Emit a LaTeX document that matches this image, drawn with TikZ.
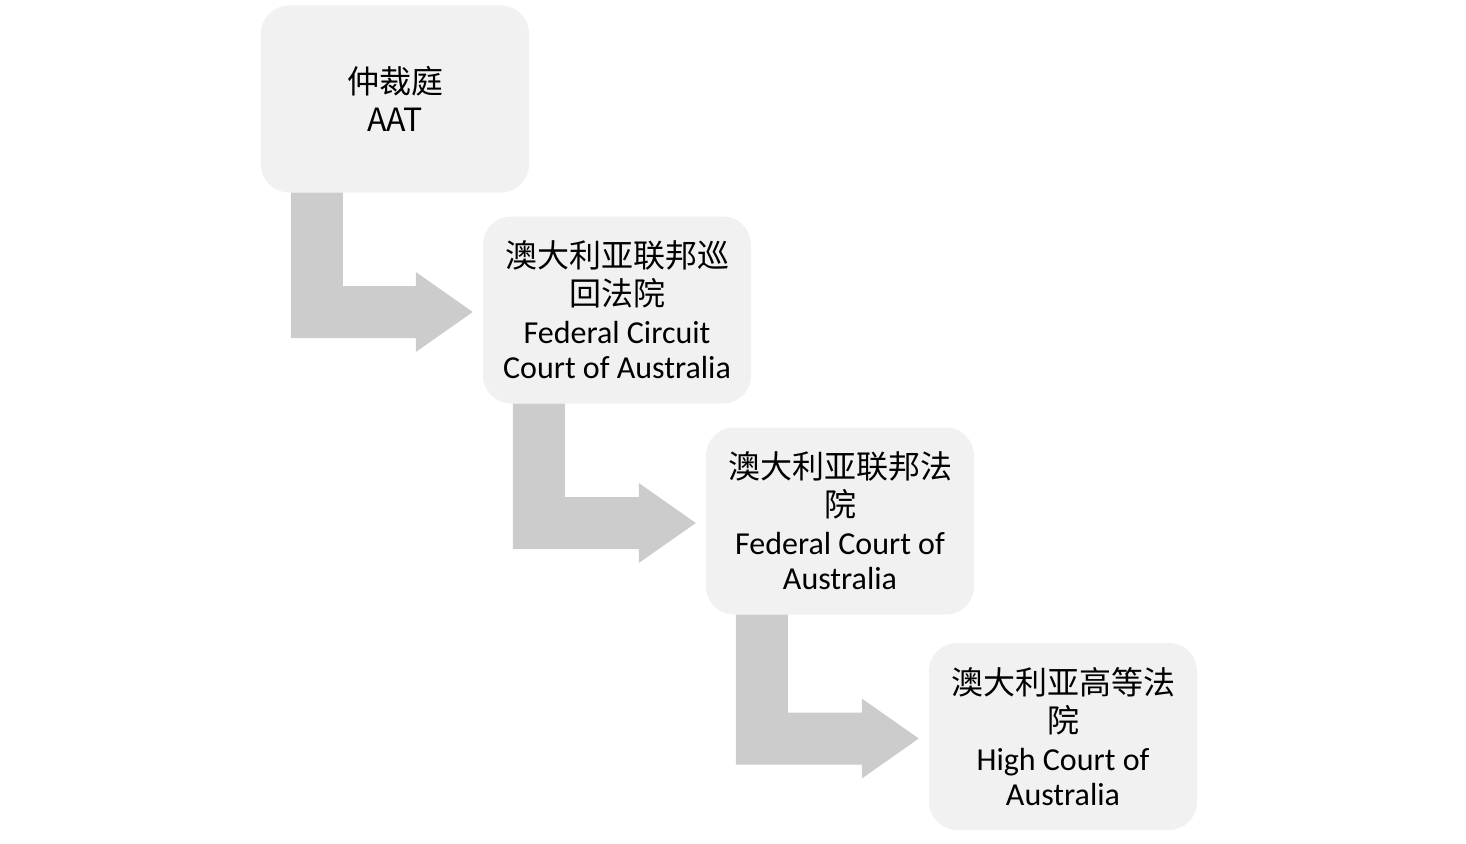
\documentclass[tikz,border=0pt]{standalone}
\usepackage{fontspec}
\setmainfont{Carlito}
\newfontfamily\cjk{Noto Sans CJK SC}
\usetikzlibrary{calc}
\definecolor{boxgray}{HTML}{F1F1F1}
\definecolor{arrowgray}{HTML}{CCCCCC}
\tikzset{
  courtbox/.style={fill=boxgray, rounded corners=28pt, minimum width=268pt, minimum height=187pt,
    inner sep=0pt, align=center, font=\fontsize{32pt}{38pt}\selectfont},
  bentarrow/.style={fill=arrowgray}
}
\newcommand{\drawbent}[2]{%
  \fill[bentarrow] ($(#1.south west)+(30,0)$) coordinate (p1)
    -- ($(#1.south west)+(82,0)$) coordinate (p2)
    -- (p2 |- {$(#2.west)+(0,-24)$})
    -- ($(#2.west)+(-67,-24)$)
    -- ($(#2.west)+(-67,-38)$)
    -- ($(#2.west)+(-10,2)$)
    -- ($(#2.west)+(-67,42)$)
    -- ($(#2.west)+(-67,28)$) coordinate (p8)
    -- (p1 |- p8) -- cycle;}
\begin{document}
\begin{tikzpicture}[x=1pt,y=-1pt]
\useasboundingbox (0,0) rectangle (1466,843);
\node[courtbox] (b1) at (395,99) {{\cjk 仲裁庭}\\{\cjk AAT}};
\node[courtbox] (b2) at (617,310) {{\cjk 澳大利亚联邦巡}\\{\cjk 回法院}\\Federal Circuit\\[-3pt]Court of Australia};
\node[courtbox] (b3) at (840,521) {{\cjk 澳大利亚联邦法}\\{\cjk 院}\\Federal Court of\\[-3pt]Australia};
\node[courtbox] (b4) at (1063,736.5) {{\cjk 澳大利亚高等法}\\{\cjk 院}\\High Court of\\[-3pt]Australia};
\drawbent{b1}{b2}
\drawbent{b2}{b3}
\drawbent{b3}{b4}
\end{tikzpicture}
\end{document}
